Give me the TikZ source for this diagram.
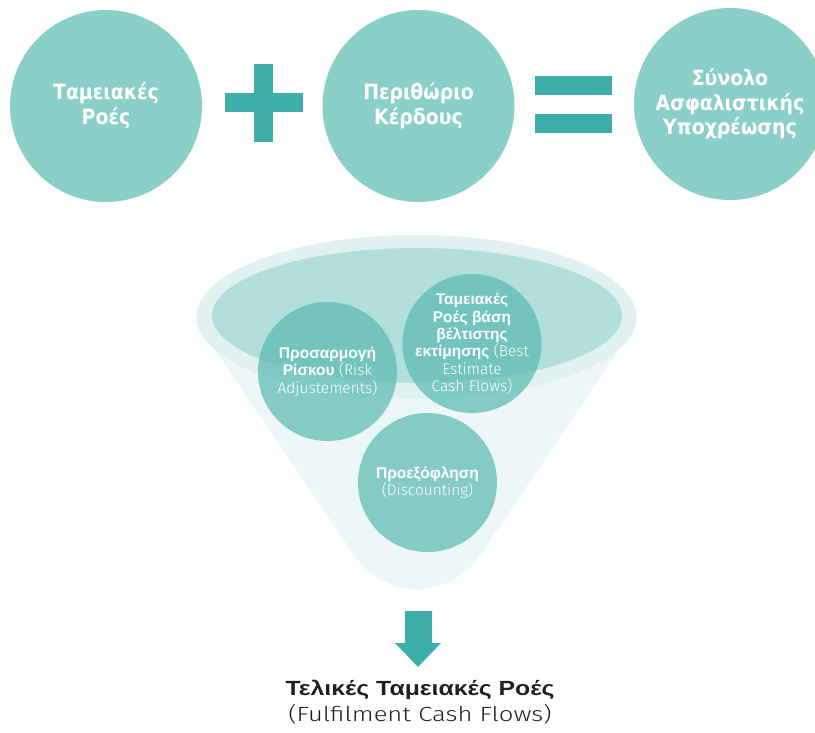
\documentclass[tikz,border=0pt]{standalone}
\usepackage{fontspec}
\setmainfont{Liberation Sans}
\newfontfamily\topfont{DejaVu Sans Condensed}
\newfontfamily\lightfont{Fira Sans Light}
\newfontfamily\widelight{Fira Sans Light}[FakeStretch=1.25]
\newfontfamily\widebold{Liberation Sans Bold}[FakeStretch=1.21]
\definecolor{topcirc}{HTML}{8BCFC9}
\definecolor{incirc}{RGB}{88,185,176}
\definecolor{symc}{HTML}{3DAEA9}
\definecolor{fbody}{HTML}{EDF7F7}
\definecolor{fouter}{HTML}{E0F1F0}
\definecolor{finner}{HTML}{B2DEDB}
\definecolor{darktxt}{HTML}{231F20}
\tikzset{
  bigcirc/.style={circle, fill=topcirc, minimum size=192, inner sep=0pt},
  smallcirc/.style={circle, fill=incirc, fill opacity=0.7, minimum size=139, inner sep=0pt},
  toptxt/.style={text=white, align=center, font=\topfont\bfseries\fontsize{21}{24.5}\selectfont},
  intxt/.style={text=white, align=center, font=\fontsize{15.5}{17.4}\selectfont},
  symbol/.style={fill=symc},
}
\begin{document}
\begin{tikzpicture}[x=1pt,y=-1pt]
\useasboundingbox (0,0) rectangle (815,733);
% top row
\node[bigcirc] (c1) at (106,106) {};
\node[toptxt] (t1) at (c1.center) {Ταμειακές\\Ροές};
\fill[symbol] (254,64) rectangle (273,142);
\fill[symbol] (225,93) rectangle (303,112);
\node[bigcirc] (c2) at (418.5,106) {};
\node[toptxt] (t2) at (c2.center) {Περιθώριο\\Κέρδους};
\fill[symbol] (535,76) rectangle (612,95);
\fill[symbol] (535,114) rectangle (612,133);
\node[bigcirc] (c3) at (730,104) {};
\node[toptxt] (t3) at (c3.center) {Σύνολο\\Ασφαλιστικής\\Υποχρέωσης};
% funnel
\fill[fbody] (205,335) -- (354.2,555.4) arc[start angle=146, end angle=34, radius=76] -- (629,335) -- cycle;
\fill[fouter] (416.5,317) ellipse [x radius=220, y radius=82];
\fill[finner] (417,315.5) ellipse [x radius=205, y radius=67.5];
% inner circles
\node[smallcirc] (r1) at (327.5,371.5) {};
\node[smallcirc] (r2) at (472,343.5) {};
\node[smallcirc] (r3) at (427.5,482.5) {};
\node[intxt] (s1) at (r1.center) {\textbf{Προσαρμογή}\\\textbf{Ρίσκου} {\lightfont(Risk}\\{\lightfont Adjustements)}};
\node[intxt] (s2) at (r2.center) {\textbf{Ταμειακές}\\\textbf{Ροές βάση}\\\textbf{βέλτιστης}\\\textbf{εκτίμησης} {\lightfont(Best}\\{\lightfont Estimate}\\{\lightfont Cash Flows)}};
\node[intxt] (s3) at (r3.center) {\textbf{Προεξόφληση}\\{\lightfont(Discounting)}};
% arrow
\fill[symbol] (405,611) -- (432,611) -- (432,643) -- (441,643) -- (418,667) -- (395,643) -- (405,643) -- cycle;
% result
\node[text=darktxt, align=center, font=\fontsize{20.5}{26}\selectfont] (res) at (420,702) {{\widebold Τελικές Ταμειακές Ροές}\\{\widelight(Fulfilment Cash Flows)}};
\end{tikzpicture}
\end{document}
